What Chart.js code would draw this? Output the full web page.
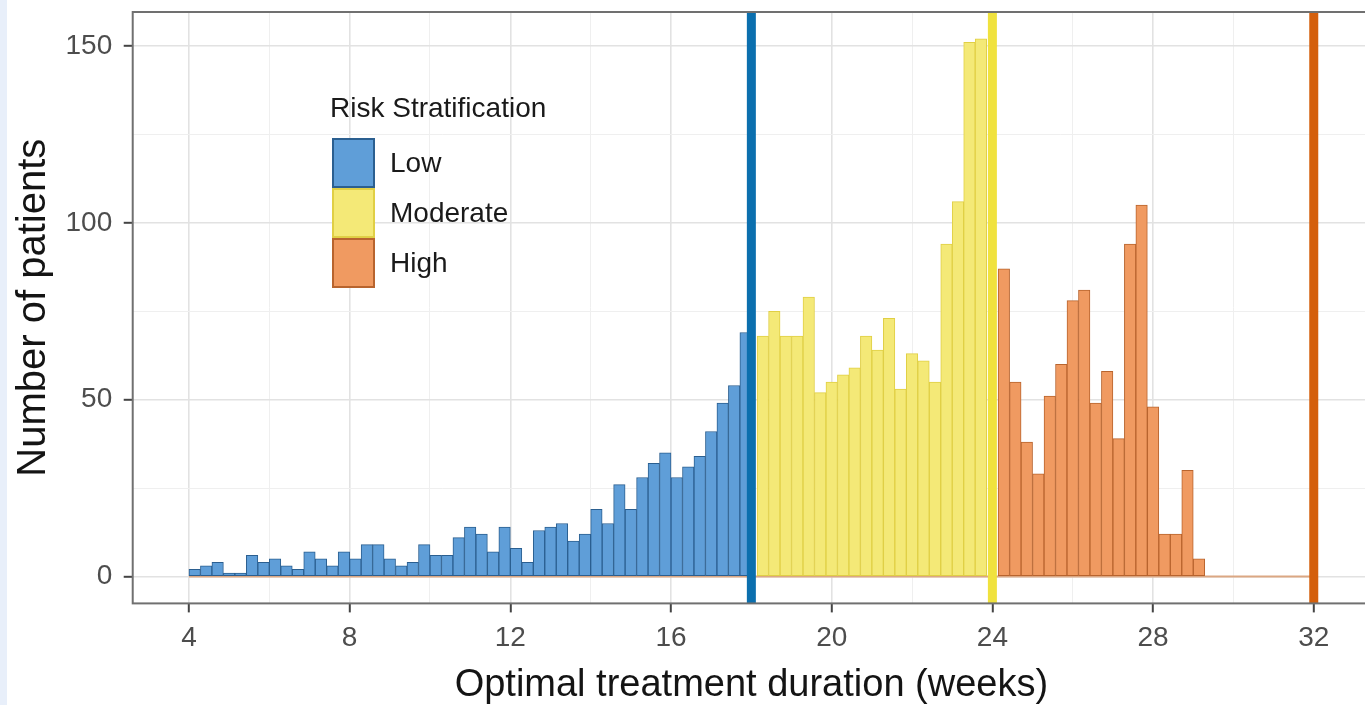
<!DOCTYPE html>
<html>
<head>
<meta charset="utf-8">
<title>Optimal treatment duration</title>
<script src="https://cdn.jsdelivr.net/npm/chart.js@4.4.1/dist/chart.umd.min.js"></script>
<style>
  html, body { margin: 0; padding: 0; background: #fff; overflow: hidden; }
  #wrap { position: relative; width: 1372px; height: 705px; }
  #edge { position: absolute; left: 0; top: 0; width: 7px; height: 705px; background: #e8effa; }
  #legend {
    position: absolute; left: 330px; top: 91px;
    font-family: "Liberation Sans", Arial, sans-serif; color: #1a1a1a;
  }
  #legend .title { font-size: 28px; line-height: 33px; margin-bottom: 14px; }
  #legend .item { display: flex; align-items: center; height: 50px; }
  #legend .key { width: 43px; height: 50px; box-sizing: border-box; border: 2px solid; margin: 0 15px 0 2px; }
  #legend .label { font-size: 28px; }
</style>
</head>
<body>
<div id="wrap">
  <canvas id="histChart"></canvas>
  <div id="edge"></div>
  <div id="legend"></div>
</div>
<script>
/* Histogram of optimal treatment duration by risk group */

const FONT = '"Liberation Sans", Arial, sans-serif';

// Bins are 2 days wide, the axis is in weeks
const BIN_DAYS = 2;
const lowStartDay = 28;
const moderateStartDay = 127;
const highStartDay = 169;

// Counts per bin
const lowCounts = [
  2, 3, 4, 1, 1, 6, 4, 5, 3, 2,
  7, 5, 3, 7, 5, 9, 9, 5, 3, 4,
  9, 6, 6, 11, 14, 12, 7, 14, 8, 4,
  13, 14, 15, 10, 12, 19, 15, 26, 19, 28,
  32, 35, 28, 31, 34, 41, 49, 54, 69
];
const moderateCounts = [
  68, 75, 68, 68, 79, 52, 55, 57, 59, 68,
  64, 73, 53, 63, 61, 55, 94, 106, 151, 152
];
const highCounts = [
  87, 55, 38, 29, 51, 60, 78, 81, 49, 58,
  39, 94, 105, 48, 12, 12, 30, 5
];

const groupLabels = ["Low", "Moderate", "High"];
const groupFills = ["#5f9ed8", "#f4e977", "#f09a61"];
const groupBorders = ["#2b5f90", "#e0cf45", "#b8642e"];

// Cut-off lines (weeks)
const thresholdWeeks = [18, 24, 32];
const thresholdColors = ["#0b6fae", "#f0e23e", "#d45f0c"];

// Flat zero line under the bars (weeks)
const baselineWeeks = [4, 32];

// Axis ranges
const X_MIN = 2.6, X_MAX = 33.4;
const Y_MIN = -7.6, Y_MAX = 159.6;

function binPoints(startDay, counts) {
  return counts.map((c, i) => ({ x: (startDay + BIN_DAYS * (i + 0.5)) / 7, y: c }));
}

const barGroups = [
  binPoints(lowStartDay, lowCounts),
  binPoints(moderateStartDay, moderateCounts),
  binPoints(highStartDay, highCounts)
];

const datasets = [];

barGroups.forEach((points, i) => {
  datasets.push({
    type: "bar",
    label: groupLabels[i],
    data: points,
    backgroundColor: groupFills[i],
    borderColor: groupBorders[i],
    borderWidth: 1,
    borderSkipped: false,
    grouped: false,
    barPercentage: 1,
    categoryPercentage: 1,
    order: 1
  });
});

thresholdWeeks.forEach((w, i) => {
  datasets.push({
    type: "line",
    label: "cut " + w,
    data: [{ x: w, y: Y_MIN }, { x: w, y: Y_MAX }],
    borderColor: thresholdColors[i],
    borderWidth: 9,
    pointRadius: 0,
    order: 0
  });
});

datasets.push({
  type: "line",
  label: "zero",
  data: baselineWeeks.map((w) => ({ x: w, y: 0 })),
  borderColor: "#dba783",
  borderWidth: 2,
  pointRadius: 0,
  order: 2
});

// Panel border like ggplot's theme_bw
const panelBorder = {
  id: "panelBorder",
  afterDatasetsDraw(chart) {
    const { ctx, chartArea } = chart;
    ctx.save();
    ctx.strokeStyle = "#707070";
    ctx.lineWidth = 2;
    ctx.strokeRect(chartArea.left, chartArea.top, chartArea.right - chartArea.left, chartArea.bottom - chartArea.top);
    ctx.restore();
  }
};

function isMajor(ctx, step) {
  return ctx.tick && Math.abs(ctx.tick.value % step) < 1e-6;
}

const chart = new Chart(document.getElementById("histChart"), {
  type: "bar",
  data: { datasets: datasets },
  options: {
    responsive: true,
    maintainAspectRatio: false,
    animation: false,
    layout: { padding: { left: 11, top: 12, right: 2, bottom: 0 } },
    plugins: {
      legend: { display: false },
      tooltip: { enabled: false }
    },
    scales: {
      x: {
        type: "linear",
        min: X_MIN,
        max: X_MAX,
        offset: false,
        ticks: {
          stepSize: 2,
          includeBounds: false,
          autoSkip: false,
          maxRotation: 0,
          padding: 9,
          color: "#4d4d4d",
          font: { family: FONT, size: 28 },
          callback: (v) => (v % 4 === 0 ? v : "")
        },
        grid: {
          offset: false,
          color: (ctx) => (isMajor(ctx, 4) ? "#e2e2e2" : "#efefef"),
          lineWidth: (ctx) => (isMajor(ctx, 4) ? 1.6 : 1),
          tickColor: (ctx) => (isMajor(ctx, 4) ? "#444" : "rgba(0,0,0,0)"),
          tickLength: 9,
          tickWidth: 2
        },
        border: { display: false },
        title: {
          display: true,
          text: "Optimal treatment duration (weeks)",
          color: "#141414",
          font: { family: FONT, size: 38, lineHeight: 1 },
          padding: { top: 3, bottom: 0 }
        }
      },
      y: {
        min: Y_MIN,
        max: Y_MAX,
        afterFit: (scale) => { scale.paddingTop = 0; },
        ticks: {
          stepSize: 25,
          includeBounds: false,
          padding: 11.5,
          color: "#4d4d4d",
          font: { family: FONT, size: 28 },
          callback: (v) => (v % 50 === 0 ? v : "")
        },
        grid: {
          color: (ctx) => (isMajor(ctx, 50) ? "#e2e2e2" : "#efefef"),
          lineWidth: (ctx) => (isMajor(ctx, 50) ? 1.6 : 1),
          tickColor: (ctx) => (isMajor(ctx, 50) ? "#444" : "rgba(0,0,0,0)"),
          tickLength: 9,
          tickWidth: 2
        },
        border: { display: false },
        title: {
          display: true,
          text: "Number of patients",
          color: "#141414",
          font: { family: FONT, size: 40, lineHeight: 1 },
          padding: { top: 3, bottom: 0 }
        }
      }
    }
  },
  plugins: [panelBorder]
});

// Legend built from the bar datasets
function buildLegend(chart) {
  const box = document.getElementById("legend");
  let html = '<div class="title">Risk Stratification</div>';
  chart.data.datasets
    .filter((d) => d.type === "bar")
    .forEach((d) => {
      html += `<div class="item"><span class="key" style="background:${d.backgroundColor};border-color:${d.borderColor}"></span><span class="label">${d.label}</span></div>`;
    });
  box.innerHTML = html;
}

buildLegend(chart);
</script>
</body>
</html>
